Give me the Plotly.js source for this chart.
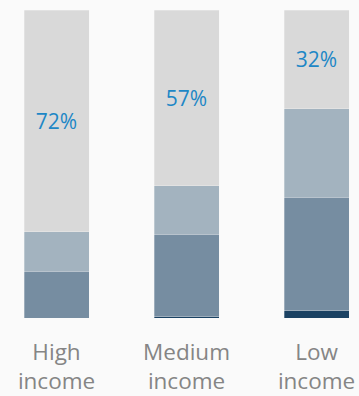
<!DOCTYPE html>
<html>
<head>
<meta charset="utf-8">
<script src="https://cdn.plot.ly/plotly-3.0.1.min.js"></script>
<style>
  html, body { margin: 0; padding: 0; background: #fafafa; }
  #chart { width: 359px; height: 396px; }
</style>
</head>
<body>
<div id="chart"></div>
<script>
// Income groups along the x axis
const categories = ['High income', 'Medium income', 'Low income'];
const tickLabels = ['High<br>income', 'Medium<br>income', 'Low<br>income'];

// Shares (%) stacked from the bottom up
const shareNavy  = [0, 0.4, 2.3];
const shareDark  = [15.1, 26.8, 36.9];
const shareMid   = [12.9, 15.8, 28.8];
const shareLight = [72, 57, 32];
const lightLabels = shareLight.map(v => v + '%');

const edge = { color: 'rgba(250,250,250,0.6)', width: 0.5 };

function layer(values, color, extra) {
  return Object.assign({
    type: 'bar',
    x: categories,
    y: values,
    width: 0.5,
    marker: { color: color, line: edge },
    hoverinfo: 'skip',
    textposition: 'none'
  }, extra || {});
}

const data = [
  layer(shareNavy, '#1b4263'),
  layer(shareDark, '#768da1'),
  layer(shareMid, '#a3b3bf'),
  layer(shareLight, '#d9d9d9', {
    text: lightLabels,
    textposition: 'inside',
    insidetextanchor: 'middle',
    textangle: 0,
    constraintext: 'none',
    textfont: { family: 'Open Sans, sans-serif', size: 21, color: '#1d87c6' }
  })
];

const layout = {
  width: 359,
  height: 396,
  barmode: 'stack',
  showlegend: false,
  paper_bgcolor: '#fafafa',
  plot_bgcolor: '#fafafa',
  margin: { l: 0, r: 0, t: 10, b: 78 },
  xaxis: {
    type: 'category',
    range: [-0.4346, 2.3269],
    tickvals: categories,
    ticktext: tickLabels,
    showgrid: false,
    showline: false,
    zeroline: false,
    ticks: '',
    ticklabelstandoff: 18,
    tickfont: { family: 'Open Sans, sans-serif', size: 22.5, color: '#858585' },
    fixedrange: true
  },
  yaxis: {
    range: [0, 100],
    visible: false,
    showgrid: false,
    zeroline: false,
    fixedrange: true
  },
  font: { family: 'Open Sans, sans-serif' }
};

Plotly.newPlot('chart', data, layout, { displayModeBar: false, staticPlot: true });
</script>
</body>
</html>
